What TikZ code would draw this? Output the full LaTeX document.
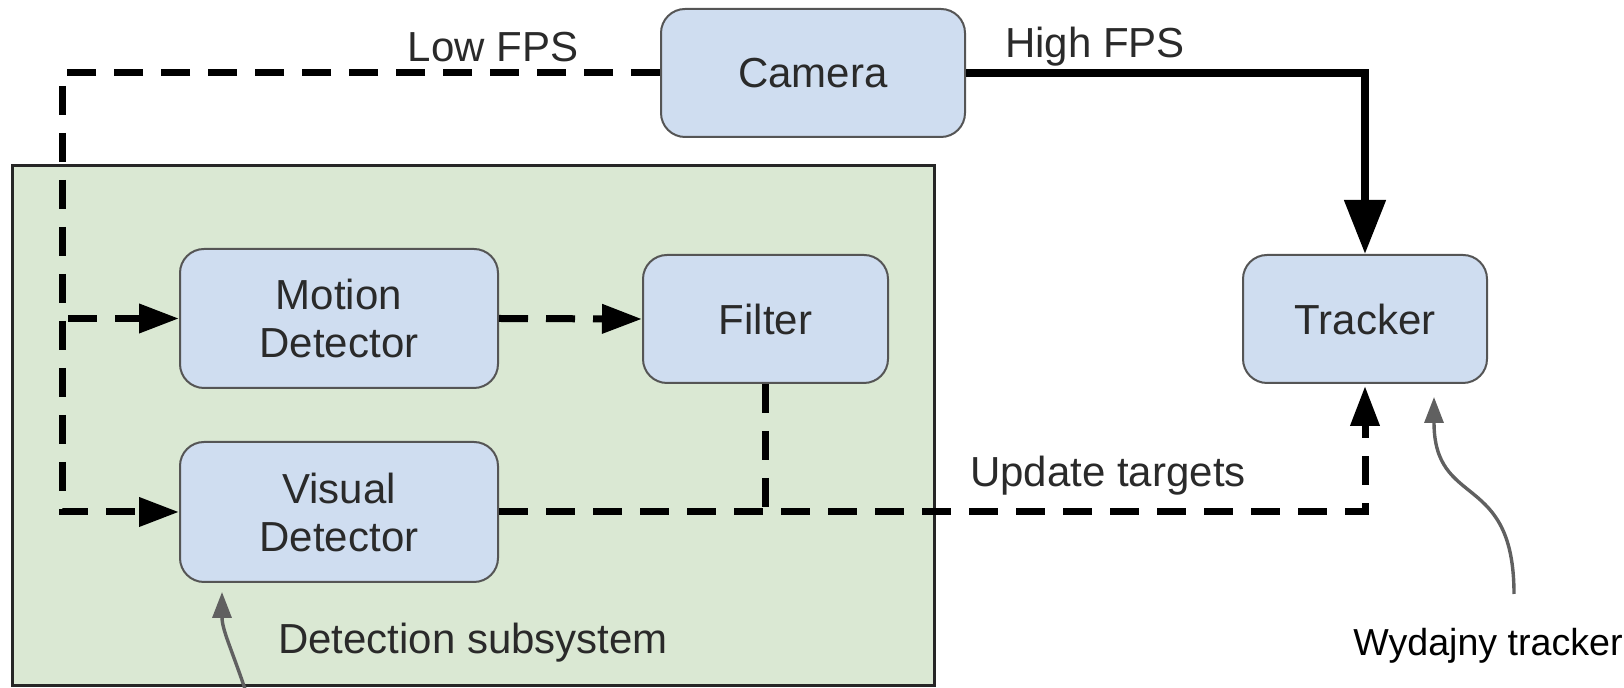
\documentclass[tikz,border=0pt]{standalone}
\usepackage{fontspec}
\setmainfont{Liberation Sans}
\usetikzlibrary{arrows.meta}

\definecolor{boxblue}{HTML}{CFDDF0}
\definecolor{subgreen}{HTML}{DAE8D3}
\definecolor{boxline}{HTML}{555555}
\definecolor{txt}{HTML}{2A2A2A}
\definecolor{notegray}{HTML}{606060}

\begin{document}
\begin{tikzpicture}[x=0.5pt,y=-0.5pt,
  block/.style={draw=boxline, line width=1pt, fill=boxblue, rounded corners=12pt,
    text=txt, font=\fontsize{21}{24}\selectfont, align=center, inner sep=0pt},
  subsys/.style={draw=black!85, line width=1.5pt, fill=subgreen, inner sep=0pt},
  lbl/.style={text=txt, font=\fontsize{21}{24}\selectfont, inner sep=0pt},
  dashtip/.style={-{Triangle[length=20pt,width=14pt]}},
  bigtip/.style={-{Triangle[length=27pt,width=20pt]}},
  flow/.style={line width=3.5pt, dash pattern=on 14.5pt off 9pt},
  feed/.style={line width=4pt},
  note/.style={draw=notegray, line width=1.7pt, -{Triangle[length=13pt,width=9.5pt]}, fill=none},
]
\useasboundingbox (0,0) rectangle (1624,688);

% detection subsystem container
\node[subsys, minimum width=461pt, minimum height=260pt] (det) at (473,426) {};
\node[lbl] (detlbl) at (473,643) {Detection subsystem};

% processing blocks
\node[block, minimum width=152pt, minimum height=64pt] (cam) at (813,73) {Camera};
\node[block, minimum width=159pt, minimum height=69.5pt] (md) at (339,318.5) {Motion\\Detector};
\node[block, minimum width=122.5pt, minimum height=64pt] (fl) at (765.5,319) {Filter};
\node[block, minimum width=159pt, minimum height=70pt] (vd) at (339,512) {Visual\\Detector};
\node[block, minimum width=122pt, minimum height=64pt] (tr) at (1365,319) {Tracker};

% link labels
\node[lbl] (low) at (493,47) {Low FPS};
\node[lbl] (high) at (1095,47) {High FPS};
\node[lbl] (upd) at (1108,476) {Update targets};

% low frame-rate feed to the detectors
\coordinate (lc) at (62,73);
\draw[flow, dashtip] (cam.west) -- (lc) |- (vd.west);
\draw[flow, dashtip] ([xshift=3pt]lc |- md.west) -- (md.west);
\draw[flow, dashtip] (md.east) -- (fl.west);

% detections back to the tracker
\coordinate (join) at (fl.south |- vd.east);
\draw[flow] (fl.south) -- (join);
\draw[flow, dashtip, shorten >=1pt] (vd.east) -| (tr.south);

% high frame-rate feed to the tracker
\draw[feed, bigtip] (cam.east) -| (tr.north);

% annotations
\node[font=\fontsize{18.8}{22}\selectfont, inner sep=0pt] (wt) at (1488,646) {Wydajny tracker};
\coordinate (wtfrom) at (1514,594);
\coordinate (trnote) at (1434,397);
\draw[note] (wtfrom) .. controls (1514,470) and (1434,510) .. (trnote);
\coordinate (vdfrom) at (246,692);
\coordinate (vdnote) at (222,592);
\draw[note] (vdfrom) .. controls (232,650) and (222,630) .. (vdnote);
\end{tikzpicture}
\end{document}
